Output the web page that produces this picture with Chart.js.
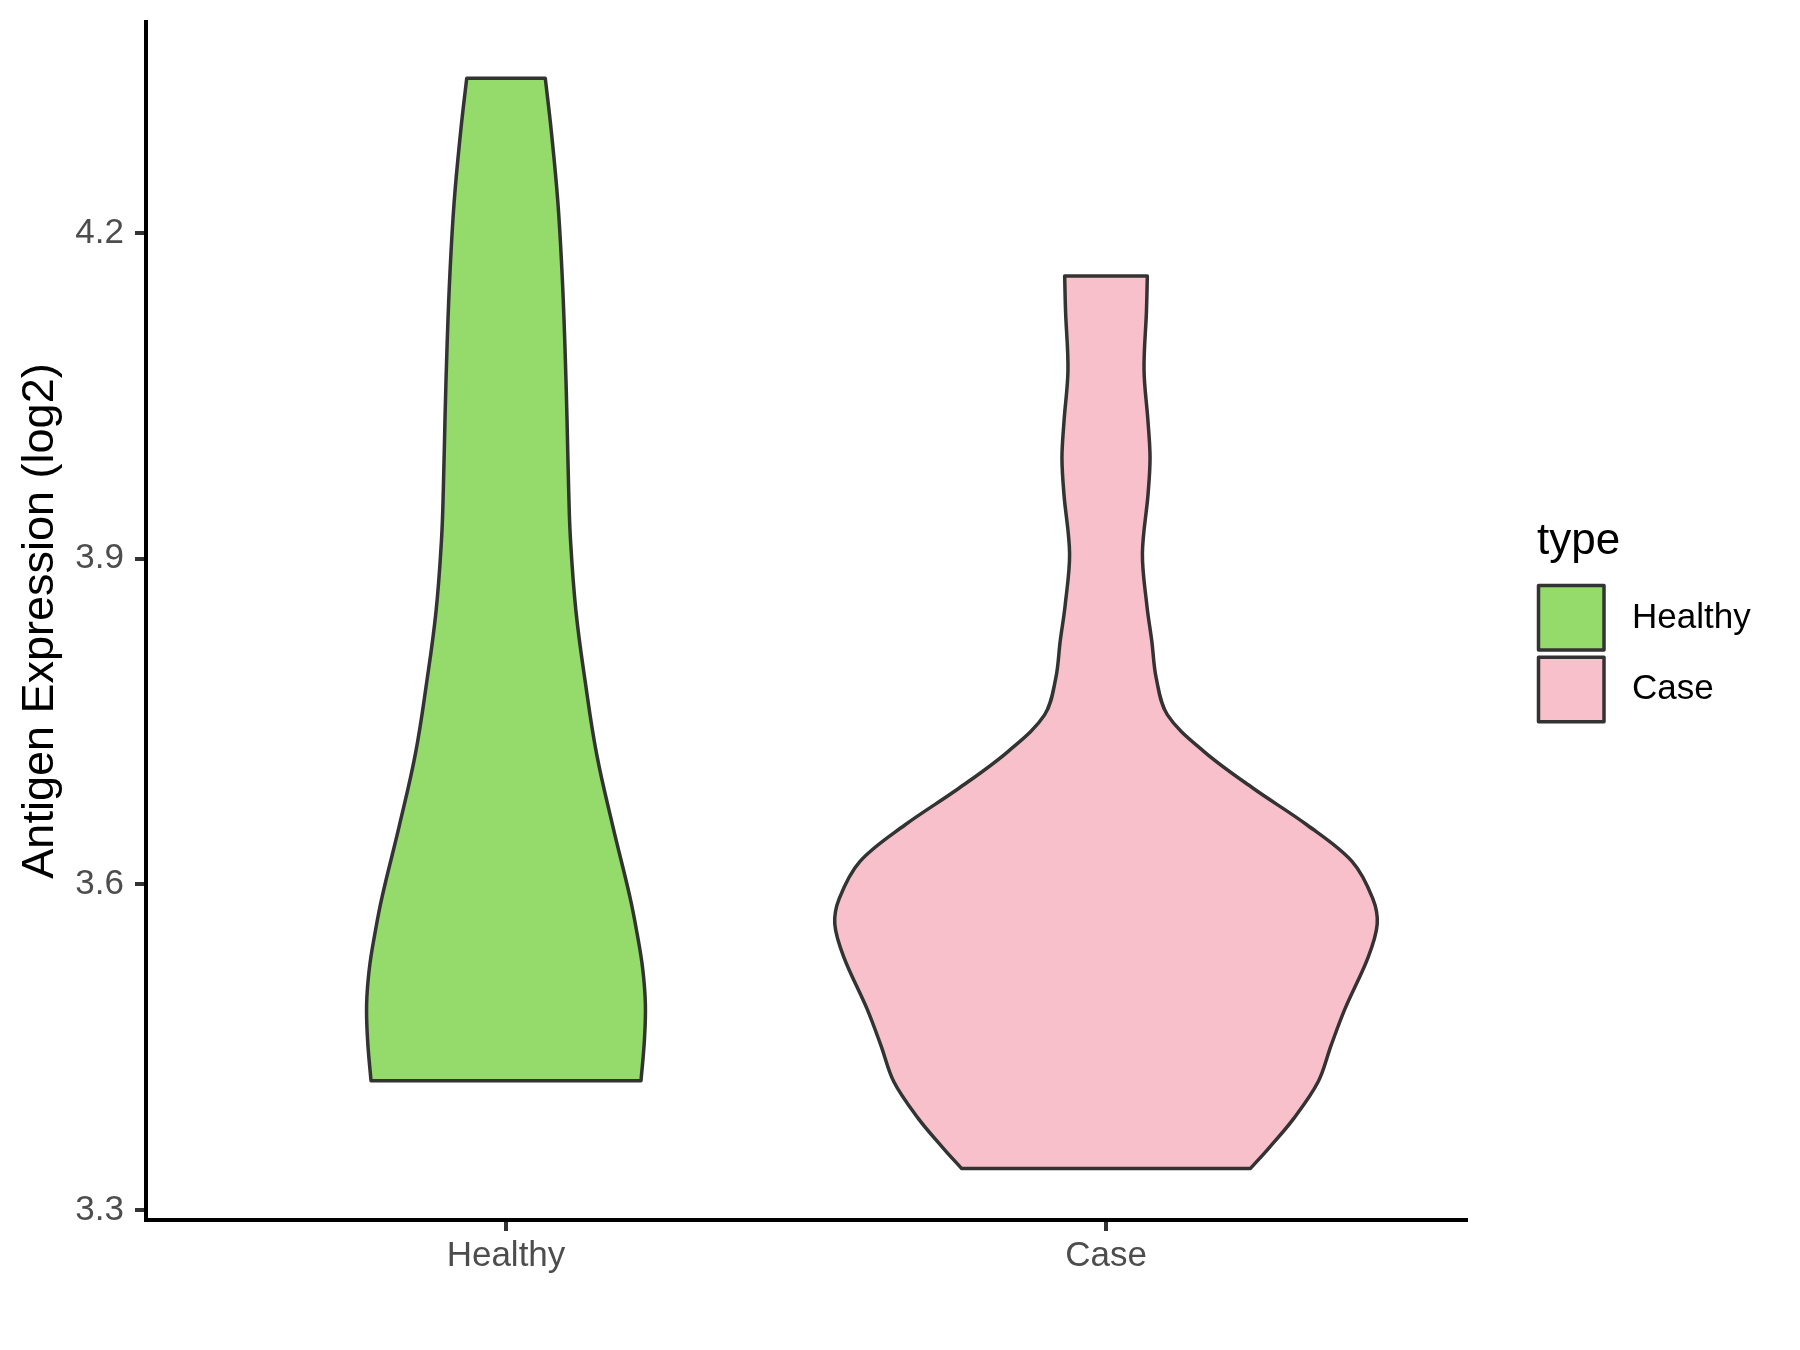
<!DOCTYPE html>
<html lang="en">
<head>
  <meta charset="UTF-8">
  <title>Antigen Expression violin plot</title>
  <script src="https://cdn.jsdelivr.net/npm/chart.js"></script>
  <style>
    body { margin: 0; background: #fff; }
  </style>
</head>
<body>
  <canvas id="violinChart" width="1800" height="1350"></canvas>
  <script>
    // categories and fill colours
    const categories = ['Healthy', 'Case'];
    const fills = ['#94DB6B', '#F7C0CB'];
    const yTicks = [3.3, 3.6, 3.9, 4.2];

    // violin outlines: expression value and half width (in category units)
    const healthyY = [3.4191, 3.4567, 3.4896, 3.5224, 3.5553, 3.5883, 3.6541, 3.7199, 3.7857,
                      3.8516, 3.9174, 3.9648, 4.0306, 4.0964, 4.1622, 4.228, 4.2939, 4.3425];
    const healthyW = [0.225, 0.2307, 0.2323, 0.2278, 0.2183, 0.2066, 0.1778, 0.1511, 0.1323,
                      0.1166, 0.1075, 0.1044, 0.1016, 0.0982, 0.0935, 0.0865, 0.0755, 0.0655];

    const caseY = [3.3383, 3.3573, 3.3842, 3.4181, 3.4519, 3.4857, 3.533, 3.5634, 3.5871, 3.621,
                   3.6547, 3.6885, 3.7223, 3.7561, 3.7899, 3.8237, 3.8575, 3.9048, 3.9589, 3.9927,
                   4.0265, 4.0738, 4.1278, 4.1604];
    const caseW = [0.2408, 0.2718, 0.3127, 0.3536, 0.3753, 0.3986, 0.437, 0.452, 0.4445, 0.4103,
                   0.3352, 0.2452, 0.1634, 0.1024, 0.0837, 0.0764, 0.068, 0.0607, 0.07, 0.0734,
                   0.07, 0.0634, 0.0674, 0.0689];

    // left side going up, right side coming down; corners repeated so the flat ends stay straight
    function violinOutline(center, ys, ws) {
      const n = ys.length;
      const left = ys.map((y, i) => ({x: center - ws[i], y: y}));
      const right = ys.map((y, i) => ({x: center + ws[i], y: y})).reverse();
      return [...left, left[n - 1], right[0], ...right, right[n - 1], left[0]];
    }

    const FONT = '"Liberation Sans", Arial, Helvetica, sans-serif';

    const typeLegend = {
      id: 'typeLegend',
      afterDraw(chart) {
        const ctx = chart.ctx;
        ctx.save();
        ctx.fillStyle = '#000000';
        ctx.font = '44px ' + FONT;
        ctx.textBaseline = 'alphabetic';
        ctx.fillText('type', 1537, 554);
        categories.forEach((name, i) => {
          const top = 585.5 + i * 71.7;
          ctx.fillStyle = fills[i];
          ctx.fillRect(1538.5, top, 65.5, 64.5);
          ctx.strokeStyle = '#333333';
          ctx.lineWidth = 3.5;
          ctx.lineJoin = 'round';
          ctx.strokeRect(1538.5, top, 65.5, 64.5);
          ctx.fillStyle = '#000000';
          ctx.font = '35px ' + FONT;
          ctx.textBaseline = 'middle';
          ctx.fillText(name, 1632, top + 32.5);
        });
        ctx.restore();
      }
    };

    const ctx = document.getElementById('violinChart').getContext('2d');
    new Chart(ctx, {
      type: 'line',
      data: {
        datasets: [
          {
            label: categories[0],
            data: violinOutline(1, healthyY, healthyW),
            backgroundColor: fills[0],
            borderColor: '#333333',
            borderWidth: 3.5,
            borderJoinStyle: 'round',
            borderCapStyle: 'round',
            fill: 'shape',
            tension: 0.4,
            pointRadius: 0
          },
          {
            label: categories[1],
            data: violinOutline(2, caseY, caseW),
            backgroundColor: fills[1],
            borderColor: '#333333',
            borderWidth: 3.5,
            borderJoinStyle: 'round',
            borderCapStyle: 'round',
            fill: 'shape',
            tension: 0.35,
            pointRadius: 0
          }
        ]
      },
      options: {
        responsive: false,
        animation: false,
        events: [],
        indexAxis: 'y',
        layout: { padding: { left: 0, top: 22, right: 334, bottom: 0 } },
        plugins: {
          legend: { display: false },
          tooltip: { enabled: false }
        },
        scales: {
          x: {
            type: 'linear',
            position: 'bottom',
            min: 0.4,
            max: 2.6,
            afterBuildTicks: (scale) => { scale.ticks = categories.map((c, i) => ({value: i + 1})); },
            afterFit: (scale) => { scale.height = 130; scale.paddingLeft = 0; scale.paddingRight = 0; },
            ticks: {
              callback: (v) => categories[v - 1],
              color: '#4D4D4D',
              font: { family: FONT, size: 35 },
              padding: 4,
              maxRotation: 0
            },
            grid: { display: true, drawOnChartArea: false, drawTicks: true, tickLength: 11, color: '#333333', lineWidth: 4 },
            border: { display: true, color: '#000000', width: 4 }
          },
          y: {
            type: 'linear',
            position: 'left',
            min: 3.2908,
            max: 4.3944,
            afterBuildTicks: (scale) => { scale.ticks = yTicks.map(v => ({value: v})); },
            afterFit: (scale) => { scale.width = 146; scale.paddingTop = 0; scale.paddingBottom = 0; },
            ticks: {
              callback: (v) => v.toFixed(1),
              color: '#4D4D4D',
              font: { family: FONT, size: 35 },
              padding: 11
            },
            grid: { display: true, drawOnChartArea: false, drawTicks: true, tickLength: 11, color: '#333333', lineWidth: 4 },
            border: { display: true, color: '#000000', width: 4 },
            title: {
              display: true,
              text: 'Antigen Expression (log2)',
              color: '#000000',
              font: { family: FONT, size: 45 },
              padding: { top: 14, bottom: 0 }
            }
          }
        }
      },
      plugins: [typeLegend]
    });
  </script>
</body>
</html>
